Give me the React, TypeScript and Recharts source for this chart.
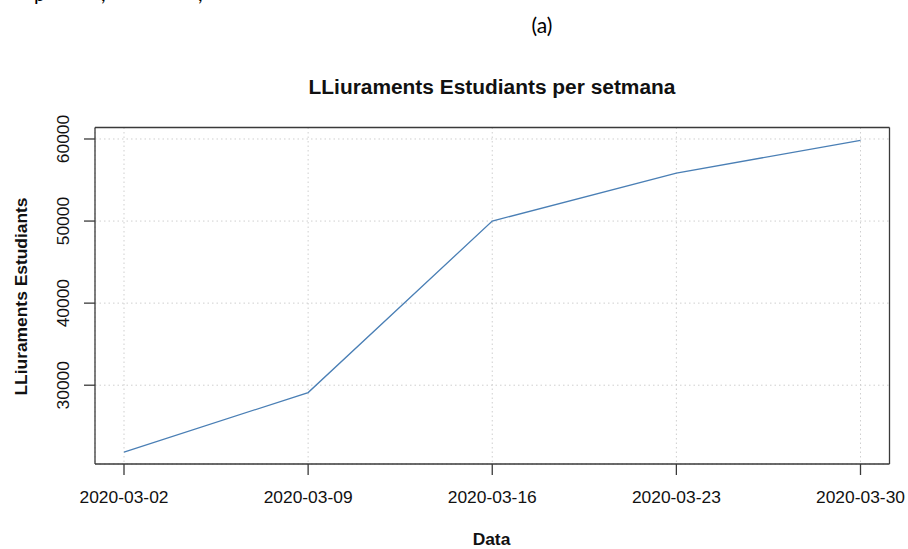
import React from 'react';
import { CartesianGrid, Line, LineChart, XAxis, YAxis } from 'recharts';

// weekly deliveries
const weeks = ['2020-03-02', '2020-03-09', '2020-03-16', '2020-03-23', '2020-03-30'];
const lliuraments = [21850, 29100, 50000, 55850, 59830];
const yTicks = [30000, 40000, 50000, 60000];

const data = weeks.map((date, i) => ({ date, value: lliuraments[i] }));

const FONT = '"Liberation Sans", Arial, Helvetica, sans-serif';
const INK = '#3a3a3a';

const XTick = (props: any) => {
  const { x, y, payload } = props;
  return (
    <text x={x} y={y + 28} textAnchor="middle" fontSize={17.4} fontFamily={FONT} fill="#111">
      {payload.value}
    </text>
  );
};

const YTick = (props: any) => {
  const { x, y, payload } = props;
  const bx = x - 15;
  return (
    <text
      x={bx}
      y={y}
      transform={`rotate(-90, ${bx}, ${y})`}
      textAnchor="middle"
      fontSize={17.4}
      fontFamily={FONT}
      fill="#111"
    >
      {payload.value}
    </text>
  );
};

export default function App() {
  return (
    <div
      style={{
        position: 'absolute',
        left: 0,
        top: 0,
        width: 908,
        height: 549,
        background: '#fff',
        overflow: 'hidden',
      }}
    >
      <LineChart
        width={908}
        height={549}
        data={data}
        margin={{ top: 126.5, right: 17.5, bottom: 55, left: 55 }}
      >
        <CartesianGrid stroke="#cfcfcf" strokeDasharray="1.5 3" />
        <XAxis
          dataKey="date"
          padding={{ left: 29, right: 29 }}
          height={30}
          tickSize={11}
          tickMargin={0}
          tick={<XTick />}
          stroke={INK}
          strokeWidth={1.3}
        />
        <XAxis
          xAxisId="top"
          dataKey="date"
          orientation="top"
          height={1}
          tick={false}
          tickLine={false}
          stroke={INK}
          strokeWidth={1.3}
        />
        <YAxis
          domain={[20400, 61400]}
          ticks={yTicks}
          width={40}
          tickSize={11}
          tickMargin={0}
          tick={<YTick />}
          stroke={INK}
          strokeWidth={1.3}
          interval={0}
        />
        <YAxis
          yAxisId="right"
          orientation="right"
          domain={[0, 1]}
          width={1}
          tick={false}
          tickLine={false}
          stroke={INK}
          strokeWidth={1.3}
        />
        <Line
          dataKey="value"
          stroke="#4a7fb5"
          strokeWidth={1.3}
          dot={false}
          activeDot={false}
          type="linear"
          isAnimationActive={false}
        />
      </LineChart>

      <svg
        width={908}
        height={549}
        style={{ position: 'absolute', left: 0, top: 0, pointerEvents: 'none' }}
      >
        {/* cut-off line of the surrounding document */}
        <text x={34} y={0.5} fontSize={20} fontFamily="Lato, sans-serif" fill="#000">p</text>
        <text x={101} y={0.5} fontSize={20} fontFamily="Lato, sans-serif" fill="#000">,</text>
        <text x={198} y={0.5} fontSize={20} fontFamily="Lato, sans-serif" fill="#000">,</text>

        <text x={542} y={33} textAnchor="middle" fontSize={21} fontFamily="Lato, sans-serif" fill="#000">
          (a)
        </text>
        <text x={492} y={93.5} textAnchor="middle" fontSize={20.9} fontWeight="bold" fontFamily={FONT} fill="#111">
          LLiuraments Estudiants per setmana
        </text>
        <text x={491.5} y={545} textAnchor="middle" fontSize={17.4} fontWeight="bold" fontFamily={FONT} fill="#111">
          Data
        </text>
        <text
          x={27}
          y={296.5}
          transform="rotate(-90, 27, 296.5)"
          textAnchor="middle"
          fontSize={17.4}
          fontWeight="bold"
          fontFamily={FONT}
          fill="#111"
        >
          LLiuraments Estudiants
        </text>
      </svg>
    </div>
  );
}
